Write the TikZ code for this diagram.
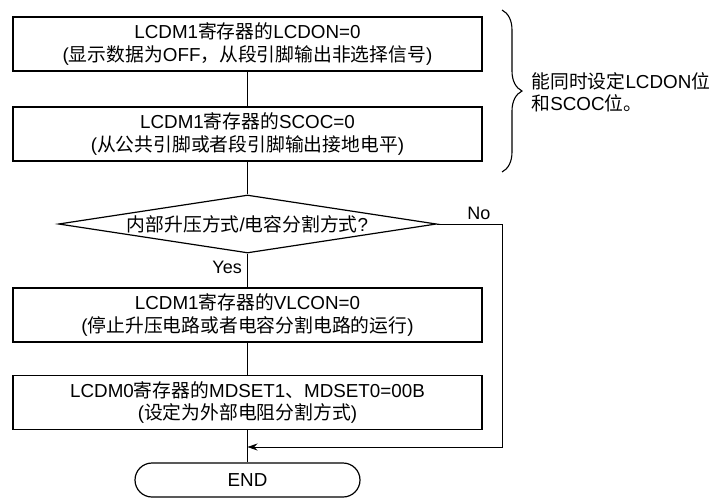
\documentclass[tikz,border=0pt]{standalone}
\usepackage{fontspec}
\setmainfont{Liberation Sans}
\newfontfamily\cjk{Noto Sans CJK SC}
\usetikzlibrary{arrows.meta,shapes.geometric,decorations.pathreplacing}
\newcommand{\zh}[1]{{\cjk #1}}

\begin{document}
\begin{tikzpicture}[x=1pt,y=-1pt,
  every node/.style={font=\fontsize{18.8}{22.5}\selectfont},
  box/.style={draw,line width=1.4pt,minimum width=469pt,minimum height=54pt,align=center,inner sep=0pt},
  cond/.style={draw,shape=diamond,aspect=6.6,line width=1.2pt,minimum width=378pt,minimum height=58pt,inner sep=0pt},
  term/.style={draw,line width=1.2pt,rounded corners=17pt,minimum width=225pt,minimum height=34pt},
  flow/.style={line width=0.8pt},
  lbl/.style={font=\fontsize{18}{20}\selectfont},
  brc/.style={decorate,decoration={brace,amplitude=20pt},line width=1.1pt}]
\useasboundingbox (0,0) rectangle (709,499);

% steps
\node[box] (lcdon) at (247.5,44)
  {LCDM1\zh{寄存器的}LCDON=0\\(\zh{显示数据为}OFF\zh{，从段引脚输出非选择信号})};
\node[box] (scoc) at (247.5,134)
  {LCDM1\zh{寄存器的}SCOC=0\\(\zh{从公共引脚或者段引脚输出接地电平})};
\node[cond] (mode) at (247.5,224) {\zh{内部升压方式}/\zh{电容分割方式}?};
\node[box] (vlcon) at (247.5,315)
  {LCDM1\zh{寄存器的}VLCON=0\\(\zh{停止升压电路或者电容分割电路的运行})};
\node[box] (mdset) at (247.5,402.5)
  {LCDM0\zh{寄存器的}MDSET1\zh{、}MDSET0=00B\\(\zh{设定为外部电阻分割方式})};
\node[term] (stop) at (247.5,480) {END};

% connectors
\coordinate (noR) at (502,224);
\coordinate (noB) at (502,447);
\coordinate (join) at (247.5,447);
\draw[flow] (lcdon.south) -- (scoc.north);
\draw[flow] (scoc.south) -- (mode.north);
\draw[flow] (mode.south) -- node[lbl,anchor=east,pos=0.4,xshift=-2pt] (yes) {Yes} (vlcon.north);
\draw[flow] (vlcon.south) -- (mdset.north);
\draw[flow] (mdset.south) -- (stop.north);
\draw[flow,-{Stealth[length=10pt,width=7pt]}] (mode.east) -- (noR) -- (noB) -- (join);
\node[lbl,anchor=south east] (no) at (494,223) {No};

% note
\coordinate (brT) at (502,10);
\coordinate (brB) at (502,172);
\draw[brc] (brT) -- (brB);
\node[anchor=west,align=left] (note) at (528,92.5)
  {\zh{能同时设定}LCDON\zh{位}\\\zh{和}SCOC\zh{位。}};
\end{tikzpicture}
\end{document}
